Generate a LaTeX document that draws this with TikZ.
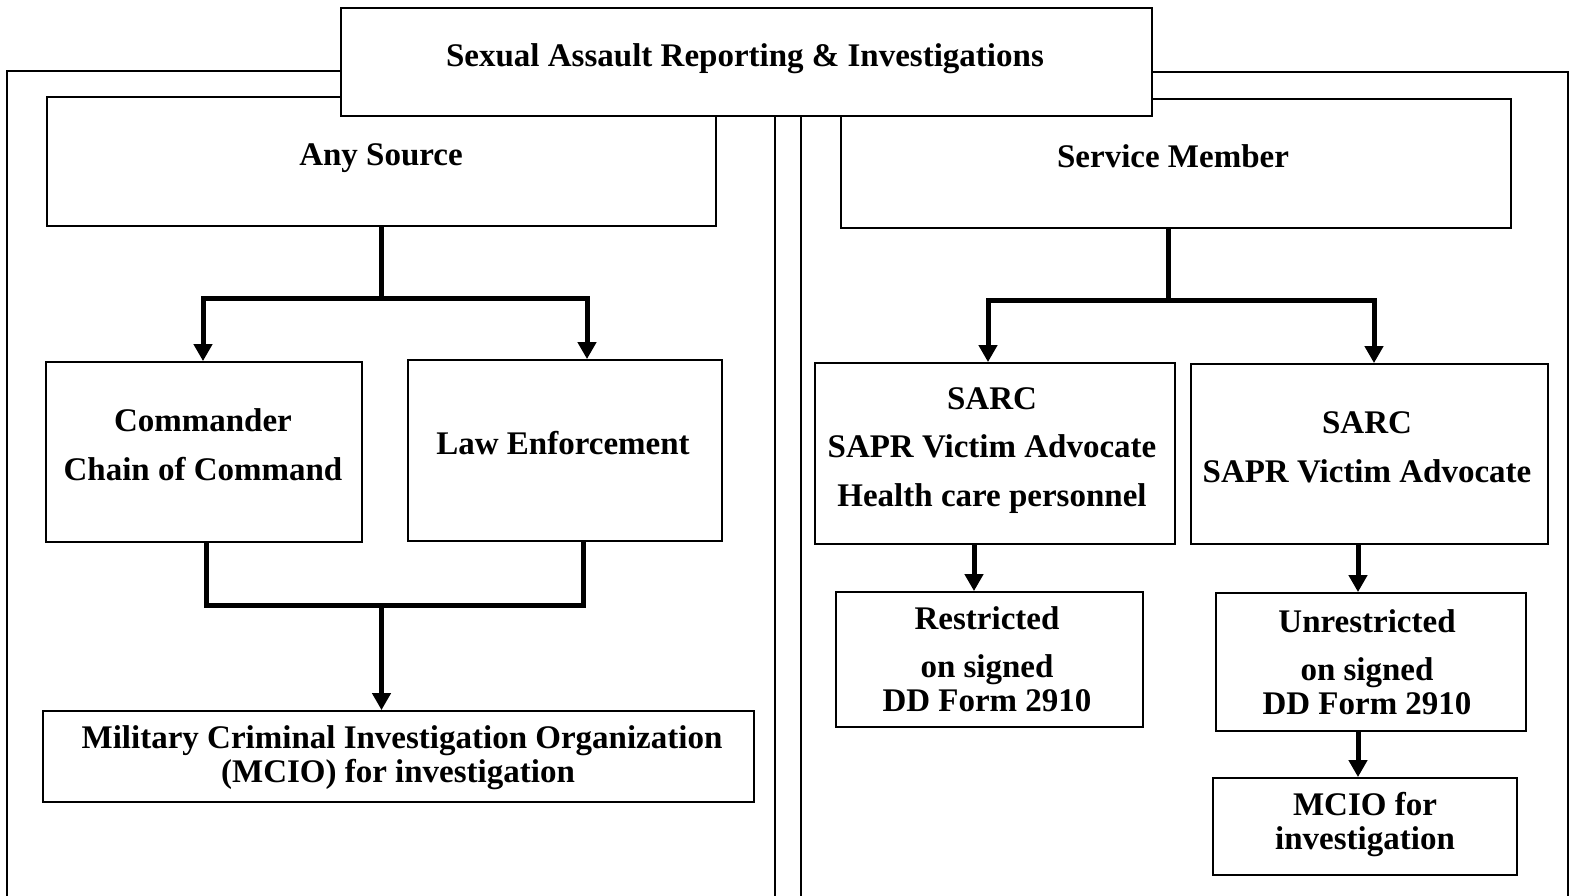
\documentclass[tikz,border=0pt]{standalone}
\usepackage{fontspec}
\setmainfont{Liberation Serif}
\usetikzlibrary{arrows.meta}

\tikzset{
  x=1pt, y=-1pt,
  frame/.style={draw=black, line width=2.2pt},
  box/.style={draw=black, fill=white, line width=1.8pt, rectangle, inner sep=0pt},
  txt/.style={anchor=base, inner sep=0pt, font=\fontsize{33}{40}\selectfont\bfseries},
  conn/.style={draw=black, line width=5pt, line join=miter},
  arr/.style={conn, -{Triangle[width=18pt,length=17pt]}},
}

\begin{document}
\begin{tikzpicture}
\useasboundingbox (0,0) rectangle (1572,896);
\clip (0,0) rectangle (1572,896);

% two panels running off the bottom edge
\draw[frame] (7,71) rectangle (775,920);
\draw[frame] (801,72) rectangle (1568,920);

% boxes
\node[box, minimum width=669pt, minimum height=129pt] (anysrc)  at (381.5,161.5){};
\node[box, minimum width=670pt, minimum height=129pt] (svc)     at (1176,163.5) {};
\node[box, minimum width=811pt, minimum height=108pt] (title)   at (746.5,62)   {};
\node[box, minimum width=316pt, minimum height=180pt] (cmd)     at (204,452)    {};
\node[box, minimum width=314pt, minimum height=181pt] (law)     at (565,450.5)  {};
\node[box, minimum width=711pt, minimum height=91pt]  (mcioA)   at (398.5,756.5){};
\node[box, minimum width=360pt, minimum height=181pt] (sarcA)   at (995,453.5)  {};
\node[box, minimum width=357pt, minimum height=180pt] (sarcB)   at (1369.5,454) {};
\node[box, minimum width=307pt, minimum height=135pt] (restr)   at (989.5,659.5){};
\node[box, minimum width=310pt, minimum height=138pt] (unrestr) at (1371,662)   {};
\node[box, minimum width=304pt, minimum height=97pt]  (mcioB)   at (1365,826.5) {};

% texts
\node[txt] (tTitle) at (745,67)   {Sexual Assault Reporting \& Investigations};
\node[txt] (tAny)   at (381,166)  {Any Source};
\node[txt] (tSvc)   at (1173,168) {Service Member};
\node[txt] (tCmd1)  at (203,431)  {Commander};
\node[txt] (tCmd2)  at (203,480)  {Chain of Command};
\node[txt] (tLaw)   at (563,454)  {Law Enforcement};
\node[txt] (tSa1)   at (992,409)  {SARC};
\node[txt] (tSa2)   at (992,457)  {SAPR Victim Advocate};
\node[txt] (tSa3)   at (992,506)  {Health care personnel};
\node[txt] (tSb1)   at (1367,433) {SARC};
\node[txt] (tSb2)   at (1367,482) {SAPR Victim Advocate};
\node[txt] (tR1)    at (987,629)  {Restricted};
\node[txt] (tR2)    at (987,677)  {on signed};
\node[txt] (tR3)    at (987,711)  {DD Form 2910};
\node[txt] (tU1)    at (1367,632) {Unrestricted};
\node[txt] (tU2)    at (1367,680) {on signed};
\node[txt] (tU3)    at (1367,714) {DD Form 2910};
\node[txt] (tMb1)   at (1365,815) {MCIO for};
\node[txt] (tMb2)   at (1365,849) {investigation};
\node[txt] (tMa1)   at (402,748)  {Military Criminal Investigation Organization};
\node[txt] (tMa2)   at (398,782)  {(MCIO) for investigation};

% left branch
\coordinate (bl) at (203,298);
\coordinate (br) at (587,298);
\draw[arr] (anysrc.south) |- (bl) -- (bl |- cmd.north);
\draw[arr] (anysrc.south) |- (br) -- (br |- law.north);

\coordinate (m1) at (206.5,605);
\coordinate (m2) at (583,605);
\coordinate (m0) at (381.5,605);
\draw[conn] (cmd.south -| m1) -- (m1) -- (m2) -- (law.south -| m2);
\draw[arr] (m0) -- (m0 |- mcioA.north);

% right branch
\coordinate (rt) at (1168,300);
\coordinate (r1) at (988,300);
\coordinate (r2) at (1374,300);
\draw[arr] (svc.south -| rt) |- (r1) -- (r1 |- sarcA.north);
\draw[arr] (svc.south -| rt) |- (r2) -- (r2 |- sarcB.north);

\coordinate (a1) at (974,0);
\coordinate (a2) at (1358,0);
\draw[arr] (sarcA.south -| a1) -- (restr.north -| a1);
\draw[arr] (sarcB.south -| a2) -- (unrestr.north -| a2);
\draw[arr] (unrestr.south -| a2) -- (mcioB.north -| a2);
\end{tikzpicture}
\end{document}
